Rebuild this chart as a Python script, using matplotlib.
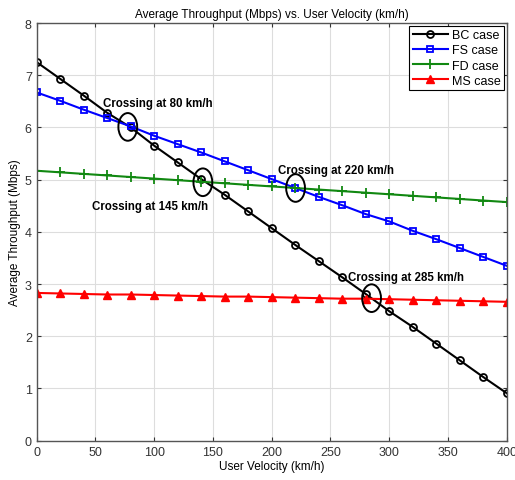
import matplotlib
matplotlib.use("Agg")
import matplotlib.pyplot as plt
from matplotlib.patches import Ellipse

plt.rcParams['font.family'] = ['Liberation Sans', 'DejaVu Sans']

# velocidad (km/h)
velocity = [0, 20, 40, 60, 80, 100, 120, 140, 160, 180, 200,
            220, 240, 260, 280, 300, 320, 340, 360, 380, 400]

bc_case = [7.25, 6.93, 6.61, 6.28, 6.00, 5.65, 5.33, 5.01, 4.71, 4.39, 4.07,
           3.75, 3.44, 3.13, 2.81, 2.48, 2.18, 1.86, 1.54, 1.22, 0.91]
fs_case = [6.67, 6.51, 6.34, 6.18, 6.02, 5.84, 5.68, 5.52, 5.35, 5.18, 5.01,
           4.84, 4.67, 4.51, 4.34, 4.20, 4.02, 3.86, 3.69, 3.52, 3.35]
fd_case = [5.17, 5.14, 5.11, 5.08, 5.05, 5.02, 4.99, 4.96, 4.93, 4.90, 4.87,
           4.84, 4.81, 4.78, 4.75, 4.72, 4.69, 4.66, 4.63, 4.60, 4.57]
ms_case = [2.83, 2.82, 2.81, 2.80, 2.80, 2.79, 2.78, 2.77, 2.76, 2.76, 2.75,
           2.74, 2.73, 2.72, 2.72, 2.71, 2.70, 2.69, 2.68, 2.67, 2.66]

# cruces: (x, y) del circulo y texto
crossings = [(77.5, 6.01), (141.4, 4.95), (220.3, 4.84), (285.0, 2.73)]
labels = ["Crossing at 80 km/h", "Crossing at 145 km/h",
          "Crossing at 220 km/h", "Crossing at 285 km/h"]
label_pos = [(56, 6.47), (47, 4.50), (205, 5.19), (265, 3.13)]

fig = plt.figure(figsize=(5.15, 4.81), dpi=100)
ax = fig.add_axes([0.0713, 0.0817, 0.9126, 0.8684])

ax.plot(velocity, bc_case, color='black', marker='o', markersize=5,
        markerfacecolor='none', markeredgewidth=1.3, linewidth=1.5, label='BC case')
ax.plot(velocity, fs_case, color='blue', marker='s', markersize=4.5,
        markerfacecolor='none', markeredgewidth=1.3, linewidth=1.5, label='FS case')
ax.plot(velocity, fd_case, color='#118811', marker='+', markersize=6.5,
        markeredgewidth=1.3, linewidth=1.5, label='FD case')
ax.plot(velocity, ms_case, color='red', marker='^', markersize=5.5,
        markerfacecolor='red', markeredgewidth=1.0, linewidth=1.5, label='MS case')

for (cx, cy) in crossings:
    ax.add_patch(Ellipse((cx, cy), 16, 0.53, fill=False, edgecolor='black',
                         linewidth=1.4, zorder=5))
for txt, (tx, ty) in zip(labels, label_pos):
    ax.text(tx, ty, txt, fontsize=8.3, fontweight='bold', va='center', ha='left')

ax.set_xlim(0, 400)
ax.set_ylim(0, 8)
ax.set_xticks(range(0, 401, 50))
ax.set_yticks(range(0, 9))
ax.grid(True, color='#dddddd', linewidth=0.8)
ax.set_axisbelow(True)
ax.tick_params(direction='in', top=True, right=True, labelsize=9,
               colors='#333333', length=3)
for s in ax.spines.values():
    s.set_color('#555555')
    s.set_linewidth(1.0)

ax.set_title("Average Throughput (Mbps) vs. User Velocity (km/h)", fontsize=8.5, pad=4)
ax.set_xlabel("User Velocity (km/h)", fontsize=8.5, labelpad=2)
ax.set_ylabel("Average Throughput (Mbps)", fontsize=8.5, labelpad=3)

leg = ax.legend(loc='upper right', fontsize=9, fancybox=False, framealpha=1,
                edgecolor='black', borderaxespad=0.2, handlelength=2.8,
                handletextpad=0.3, labelspacing=0.25, borderpad=0.3)
leg.get_frame().set_linewidth(0.8)

fig.savefig("out.png", dpi=100)
